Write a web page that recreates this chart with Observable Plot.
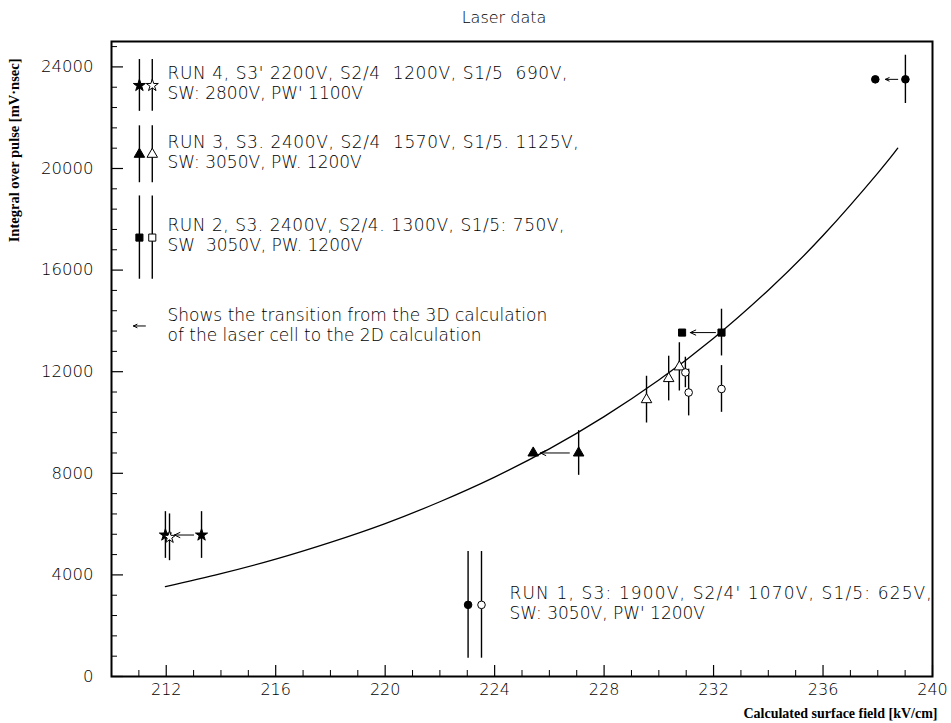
<!DOCTYPE html>
<html><head><meta charset="utf-8">
<script src="https://cdn.jsdelivr.net/npm/d3@7"></script>
<script src="https://cdn.jsdelivr.net/npm/@observablehq/plot@0.6"></script>
<style>body{margin:0;background:#fff} svg{display:block}</style>
</head><body><div id="chart"></div>
<script>
// ---- axis ticks ----
const xMajorTicks = [212, 216, 220, 224, 228, 232, 236, 240];
const xMinorTicks = [211, 213, 214, 215, 217, 218, 219, 221, 222, 223, 225, 226, 227, 229, 230, 231, 233, 234, 235, 237, 238, 239];
const yMajorTicks = [0, 4000, 8000, 12000, 16000, 20000, 24000];
const yMinorTicks = [800, 1600, 2400, 3200, 4800, 5600, 6400, 7200, 8800, 9600, 10400, 11200, 12800, 13600, 14400, 15200, 16800, 17600, 18400, 19200, 20800, 21600, 22400, 23200, 24800];

// ---- data (x: kV/cm, y: mV·nsec, err: half error bar) ----
const starsFilled = [{x: 211.97, y: 5570, err: 920}, {x: 213.29, y: 5570, err: 920}];
const starsOpen = [{x: 212.12, y: 5480, err: 920}];
const trianglesFilled = [{x: 225.41, y: 8800, err: 0}, {x: 227.07, y: 8800, err: 880}];
const trianglesOpen = [{x: 229.55, y: 10900, err: 920}, {x: 230.36, y: 11730, err: 880}, {x: 230.75, y: 12190, err: 950}];
const squaresFilled = [{x: 230.85, y: 13540, err: 0}, {x: 232.29, y: 13540, err: 920}];
const circlesFilled = [{x: 223.03, y: 2820, err: 2100}, {x: 237.91, y: 23510, err: 0}, {x: 239.01, y: 23510, err: 950}];
const circlesOpen = [{x: 223.52, y: 2820, err: 2100}, {x: 230.97, y: 11970, err: 600}, {x: 231.09, y: 11180, err: 920}, {x: 232.29, y: 11320, err: 920}];

// legend markers (drawn inside the plot, in data coordinates as in the original)
const legendStars = [{x: 211.02, y: 23270, err: 1020}, {x: 211.49, y: 23270, err: 1020}];
const legendTriangles = [{x: 211.02, y: 20560, err: 1120}, {x: 211.49, y: 20560, err: 1120}];
const legendSquares = [{x: 211.02, y: 17280, err: 1640}, {x: 211.49, y: 17280, err: 1640}];

// transition arrows 3D -> 2D
const arrows = [
  {x1: 213.0, x2: 212.3, y: 5570},
  {x1: 226.73, x2: 225.67, y: 8800},
  {x1: 232.07, x2: 231.15, y: 13540},
  {x1: 238.73, x2: 238.28, y: 23510},
  {x1: 211.24, x2: 210.80, y: 13800}
];

// fitted curve
const curveX = [211.97, 214, 216, 218, 220, 222, 224, 226, 228, 230, 232, 234, 236, 238, 238.73];
const curveY = [3540, 4050, 4620, 5280, 6020, 6880, 7850, 8960, 10230, 11670, 13320, 15210, 17360, 19820, 20800];
const curve = curveX.map((x, i) => ({x, y: curveY[i]}));

// texts
const title = "Laser data";
const xLabel = "Calculated surface field [kV/cm]";
const yLabel = "Integral over pulse [mV·nsec]";
const run4Text = ["RUN 4, S3' 2200V, S2/4\u00a0 1200V, S1/5\u00a0 690V,", "SW: 2800V, PW' 1100V"];
const run3Text = ["RUN 3, S3. 2400V, S2/4\u00a0 1570V, S1/5. 1125V,", "SW: 3050V, PW. 1200V"];
const run2Text = ["RUN 2, S3. 2400V, S2/4. 1300V, S1/5: 750V,", "SW\u00a0 3050V, PW. 1200V"];
const noteText = ["Shows the transition from the 3D calculation", "of the laser cell to the 2D calculation"];
const run1Text = ["RUN 1, S3: 1900V, S2/4' 1070V, S1/5: 625V,", "SW: 3050V, PW' 1200V"];

const W = 951, H = 723, ML = 111, MR = 19, MT = 41, MB = 47;
const FW = W - ML - MR, FH = H - MT - MB;
const textFont = "DejaVu Sans";

function errBars(data) {
  return Plot.ruleX(data.filter(d => d.err > 0), {x: "x", y1: d => d.y - d.err, y2: d => d.y + d.err, strokeWidth: 1.4});
}
function dots(data, symbol, filled, r = 4) {
  return Plot.dot(data, {x: "x", y: "y", symbol, r, fill: filled ? "black" : "white", stroke: "black", strokeWidth: 1});
}
function textLines(lines, dx, dy0, spacings, step = 20, size = 17) {
  return lines.map((t, i) => Plot.text([t], {
    frameAnchor: "top-left", dx, dy: dy0 + i * step, textAnchor: "start", lineAnchor: "middle",
    fontSize: size, fontFamily: textFont, fontWeight: 300,
    render(index, scales, values, dimensions, context, next) {
      const g = next(index, scales, values, dimensions, context);
      g.setAttribute("letter-spacing", spacings[i] + "px");
      return g;
    }
  }));
}

const allSeries = [starsFilled, starsOpen, trianglesFilled, trianglesOpen, squaresFilled, circlesFilled, circlesOpen, legendStars, legendTriangles, legendSquares];

const chart = Plot.plot({
  width: W, height: H,
  marginLeft: ML, marginRight: MR, marginTop: MT, marginBottom: MB,
  x: {domain: [210, 240]},
  y: {domain: [0, 25000]},
  style: {fontFamily: textFont, background: "white", color: "black"},
  marks: [
    // ticks inside the frame
    Plot.ruleX(xMajorTicks, {x: d => d, insetTop: FH - 11, strokeWidth: 1.2}),
    Plot.ruleX(xMinorTicks, {x: d => d, insetTop: FH - 6, strokeWidth: 1}),
    Plot.ruleY(yMajorTicks, {y: d => d, insetRight: FW - 12, strokeWidth: 1.2}),
    Plot.ruleY(yMinorTicks, {y: d => d, insetRight: FW - 6, strokeWidth: 1}),
    Plot.axisX(xMajorTicks, {tickSize: 0, tickPadding: 7, fontSize: 16, label: null, fontWeight: 300}),
    Plot.axisY(yMajorTicks, {tickSize: 0, tickPadding: 18, fontSize: 16.5, label: null, fontWeight: 300, tickFormat: d => String(d)}),
    Plot.frame({strokeWidth: 2}),
    // fitted curve
    Plot.line(curve, {x: "x", y: "y", curve: "natural", strokeWidth: 1.3}),
    // error bars
    ...allSeries.map(errBars),
    // arrows
    Plot.arrow(arrows, {x1: "x1", x2: "x2", y1: "y", y2: "y", headLength: 9, headAngle: 50, strokeWidth: 1}),
    // markers
    dots(starsFilled, "star", true, 3.8),
    dots(starsOpen, "star", false, 3.8),
    dots(legendStars.slice(0, 1), "star", true, 3.8),
    dots(legendStars.slice(1), "star", false, 3.8),
    dots(trianglesFilled, "triangle", true, 3.9),
    dots(trianglesOpen, "triangle", false, 3.9),
    dots(legendTriangles.slice(0, 1), "triangle", true, 3.9),
    dots(legendTriangles.slice(1), "triangle", false, 3.9),
    dots(squaresFilled, "square", true, 4),
    dots(legendSquares.slice(0, 1), "square", true, 4),
    dots(legendSquares.slice(1), "square", false, 4),
    dots(circlesFilled, "circle", true, 3.8),
    dots(circlesOpen, "circle", false, 3.8),
    // texts
    ...textLines(run4Text, 56, 32, [0.62, 0]),
    ...textLines(run3Text, 56, 101, [0.6, 0]),
    ...textLines(run2Text, 56, 184, [0.52, 0]),
    ...textLines(noteText, 56, 274, [0, 0]),
    ...textLines(run1Text, 398, 552, [1.15, 0]),
    Plot.text([title], {frameAnchor: "top", dx: -18, dy: -24, lineAnchor: "middle", fontSize: 16, fontFamily: textFont, fontWeight: 300}),
    Plot.text([yLabel], {frameAnchor: "top-left", dx: -97, dy: 17, rotate: -90, textAnchor: "end", lineAnchor: "middle", fontSize: 14.5, fontFamily: "Liberation Serif", fontWeight: "bold"}),
    Plot.text([xLabel], {frameAnchor: "bottom-right", dx: 5, dy: 37, textAnchor: "end", lineAnchor: "middle", fontSize: 14, fontFamily: "Liberation Serif", fontWeight: "bold"})
  ]
});
document.getElementById("chart").append(chart);
</script>
</body></html>
